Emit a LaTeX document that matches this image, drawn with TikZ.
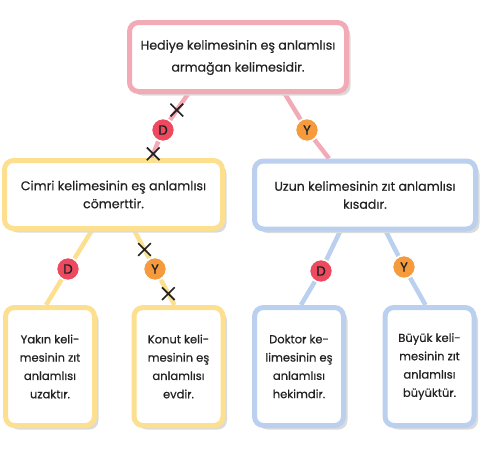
\documentclass[tikz,border=0pt]{standalone}
\usepackage{fontspec}
\setmainfont{Poppins}[FakeBold=0.5]
\usepackage{xcolor}
\usetikzlibrary{positioning,shadows,shapes.misc,backgrounds}

\definecolor{pembe}{HTML}{F2AAB6}
\definecolor{sari}{HTML}{FCE08F}
\definecolor{mavi}{HTML}{BAD0EE}
\definecolor{kirmizi}{HTML}{EE4A5F}
\definecolor{turuncu}{HTML}{F59B3D}
\definecolor{yazi}{HTML}{222222}

\begin{document}
\begin{tikzpicture}[
  x=1pt, y=-1pt,
  font=\fontsize{12.6}{18}\selectfont,
  kutu/.style={draw, line width=5pt, rounded corners=9pt, fill=white, align=center, inner sep=3pt, text=yazi,
    drop shadow={shadow xshift=4pt, shadow yshift=-4pt, fill=black!14, opacity=1}},
  ust/.style={kutu, draw=pembe, minimum width=217pt, minimum height=69pt},
  orta/.style={kutu, minimum width=218pt, minimum height=68pt},
  alt/.style={kutu, minimum width=89pt, minimum height=118pt, font=\fontsize{11.5}{18.3}\selectfont},
  hat/.style={line width=4.5pt},
  rozet/.style={circle, draw=white, line width=1.5pt, minimum size=23pt, inner sep=0pt, text=yazi, font=\fontsize{13.5}{14}\selectfont},
  dogru/.style={rozet, fill=kirmizi},
  yanlis/.style={rozet, fill=turuncu},
  carpi/.style={cross out, draw=yazi, line width=1.7pt, minimum size=11pt, inner sep=0pt}
]
\useasboundingbox (0,0) rectangle (483,450);

% kutular
\node[ust] (hediye) at (238,57) {\raisebox{-3pt}{\begin{tabular}{@{}c@{}}Hediye kelimesinin eş anlamlısı\\[4pt]armağan kelimesidir.\end{tabular}}};
\node[orta, draw=sari] (cimri) at (113.5,194.5) {Cimri kelimesinin eş anlamlısı\\cömerttir.};
\node[orta, draw=mavi, minimum width=221pt] (uzun) at (365,195) {Uzun kelimesinin zıt anlamlısı\\kısadır.};
\node[alt, draw=sari] (yakin) at (50,366.5) {Yakın keli-\\mesinin zıt\\anlamlısı\\uzaktır.};
\node[alt, draw=sari] (konut) at (178.5,366.5) {Konut keli-\\mesinin eş\\anlamlısı\\evdir.};
\node[alt, draw=mavi] (doktor) at (299,366.5) {Doktor ke-\\limesinin eş\\anlamlısı\\hekimdir.};
\node[alt, draw=mavi] (buyuk) at (429.5,366.5) {Büyük keli-\\mesinin zıt\\anlamlısı\\büyüktür.};

% rozetler
\node[dogru] (d1) at (163,130) {D};
\node[yanlis] (y1) at (307,130) {Y};
\node[dogru] (d2) at (68,269) {D};
\node[yanlis] (y2) at (155,269) {Y};
\node[dogru] (d3) at (321,271) {D};
\node[yanlis] (y3) at (404,267) {Y};

% baglantilar
\begin{scope}[on background layer]
\draw[hat, pembe] ([xshift=-50pt]hediye.south) -- coordinate[pos=0.62] (x1) (d1) -- coordinate[pos=0.75] (x2) ([xshift=38pt]cimri.north);
\draw[hat, pembe] ([xshift=47pt]hediye.south) -- (y1) -- ([xshift=-36pt]uzun.north);
\draw[hat, sari] ([xshift=-22pt]cimri.south) -- (d2) -- ([xshift=-4pt]yakin.north);
\draw[hat, sari] ([xshift=21pt]cimri.south) -- coordinate[pos=0.68] (x3) (y2) -- coordinate[pos=0.55] (x4) ([xshift=-4pt]konut.north);
\draw[hat, mavi] ([xshift=-25pt]uzun.south) -- (d3) -- ([xshift=2pt]doktor.north);
\draw[hat, mavi] ([xshift=21pt]uzun.south) -- (y3) -- ([xshift=-4pt]buyuk.north);
\end{scope}

% carpilar
\node[carpi] (c1) at (x1) {};
\node[carpi] (c2) at (x2) {};
\node[carpi] (c3) at (x3) {};
\node[carpi] (c4) at (x4) {};
\end{tikzpicture}
\end{document}
